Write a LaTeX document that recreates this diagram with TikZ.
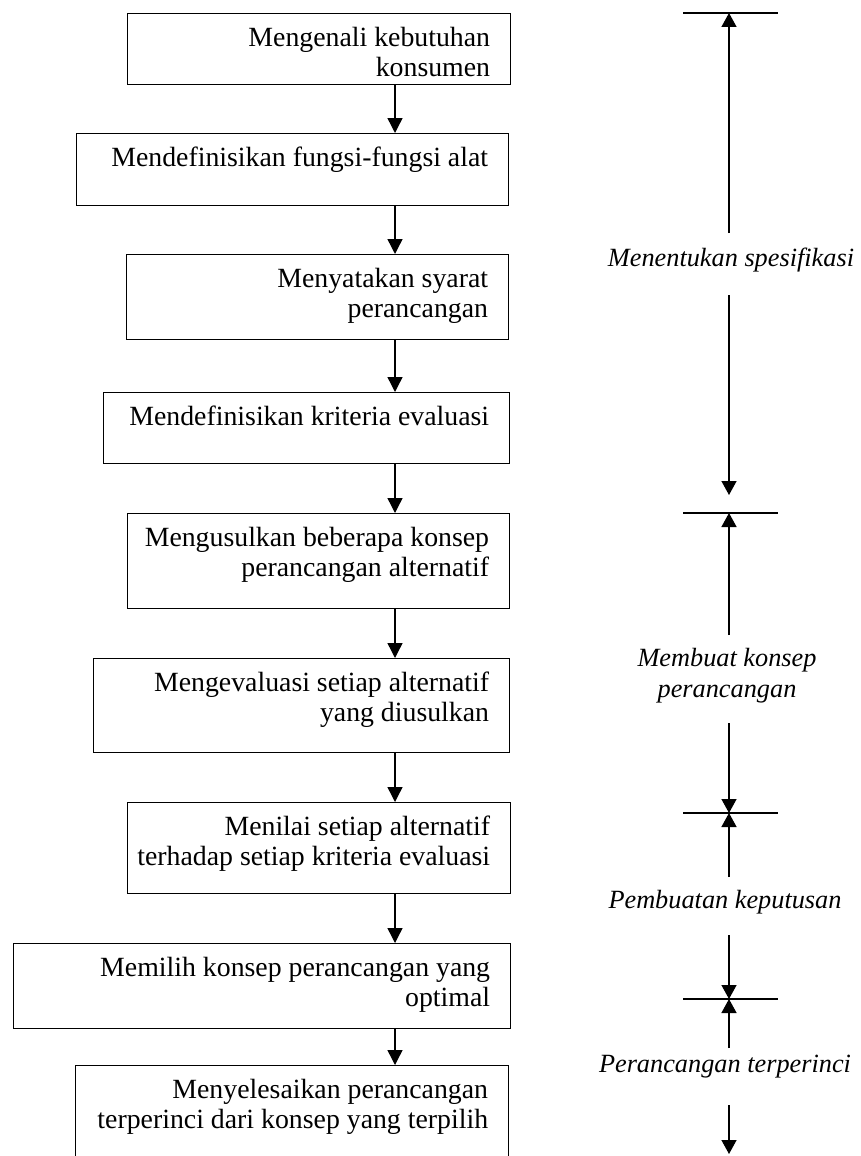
\documentclass[tikz,border=0pt]{standalone}
\usepackage{fontspec}
\setmainfont{Liberation Serif}
\usetikzlibrary{arrows.meta,calc}

\begin{document}
\begin{tikzpicture}[x=1pt, y=-1pt,
  stepbox/.style={draw, line width=1.3pt, inner sep=0pt, anchor=north west},
  boxtext/.style={anchor=north east, align=right, inner sep=0pt, xshift=-21pt, yshift=-14pt,
    font=\fontsize{27.8}{30}\selectfont},
  flow/.style={line width=1.4pt, -{Triangle[width=15pt,length=15pt]}},
  dimline/.style={line width=1.4pt, -{Triangle[width=15pt,length=14pt]}},
  tickline/.style={line width=1.1pt},
  phase/.style={align=center, inner sep=0pt, font=\fontsize{26.3}{31}\selectfont\itshape}]
\useasboundingbox (0,0) rectangle (861,1156);
\clip (0,0) rectangle (861,1156);
% left column: steps
\foreach \n/\l/\t/\r/\b in {1/127/13/510/84, 2/76/133/508/205, 3/126/254/508/339,
    4/103/392/509/463, 5/127/513/509/608, 6/93/658/509/752, 7/127/802/510/893,
    8/13/943/510/1028, 9/75/1065/508/1180}
  \node[stepbox, minimum width={(\r-\l)*1pt}, minimum height={(\b-\t)*1pt}] (b\n) at (\l,\t) {};
\node[boxtext] (t1) at (b1.north east) {Mengenali kebutuhan\\konsumen};
\node[boxtext] (t2) at (b2.north east) {Mendefinisikan fungsi-fungsi alat};
\node[boxtext] (t3) at (b3.north east) {Menyatakan syarat\\perancangan};
\node[boxtext] (t4) at (b4.north east) {Mendefinisikan kriteria evaluasi};
\node[boxtext] (t5) at (b5.north east) {Mengusulkan beberapa konsep\\perancangan alternatif};
\node[boxtext] (t6) at (b6.north east) {Mengevaluasi setiap alternatif\\yang diusulkan};
\node[boxtext] (t7) at (b7.north east) {Menilai setiap alternatif\\terhadap setiap kriteria evaluasi};
\node[boxtext] (t8) at (b8.north east) {Memilih konsep perancangan yang\\optimal};
\node[boxtext] (t9) at (b9.north east) {Menyelesaikan perancangan\\terperinci dari konsep yang terpilih};
\coordinate (ax) at (395,0);
\foreach \a/\b in {1/2,2/3,3/4,4/5,5/6,6/7,7/8,8/9}
  \draw[flow] (b\a.south -| ax) -- (b\b.north -| ax);
% right column: phases
\coordinate (k1) at (729,13);
\coordinate (k2) at (729,513);
\coordinate (k3) at (729,813);
\coordinate (k4) at (729,999);
\coordinate (e1) at (729,495);
\coordinate (e2) at (729,1154);
\foreach \k in {k1,k2,k3,k4}
  \draw[tickline] ($(\k)+(-46,0)$) -- ($(\k)+(49,0)$);
\node[phase] (p1) at (731,260) {Menentukan spesifikasi};
\node[phase] (p2) at (727,675.5) {Membuat konsep\\perancangan};
\node[phase] (p3) at (725,902) {Pembuatan keputusan};
\node[phase] (p4) at (725,1067) {Perancangan terperinci};
\foreach \p/\u/\d/\s/\e in {p1/-27/35/k1/e1, p2/-40.5/47.5/k2/k3, p3/-25/33/k3/k4, p4/-19/38/k4/e2} {
  \draw[dimline] ($(\p.center -| \s)+(0,\u)$) -- (\s);
  \draw[dimline] ($(\p.center -| \s)+(0,\d)$) -- (\e);
}
\end{tikzpicture}
\end{document}
